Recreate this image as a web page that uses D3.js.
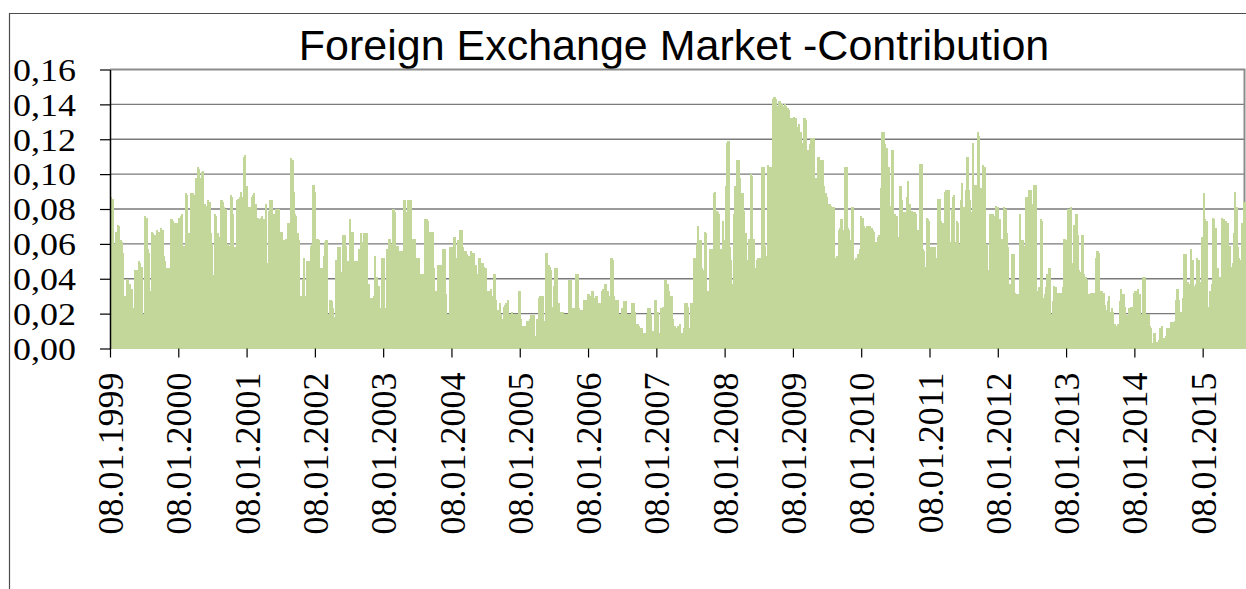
<!DOCTYPE html>
<html>
<head>
<meta charset="utf-8">
<script src="https://cdn.jsdelivr.net/npm/d3@7"></script>
<style>
  html, body { margin: 0; padding: 0; background: #ffffff; }
  svg { display: block; }
</style>
</head>
<body>
<svg id="chart" width="1246" height="589"></svg>
<script>
// Weekly contribution of the foreign exchange market, Jan 1999 – Aug 2015
const chartTitle = "Foreign Exchange Market -Contribution";

const yTickValues = [0, 0.02, 0.04, 0.06, 0.08, 0.10, 0.12, 0.14, 0.16];
const yTickLabels = ["0,00", "0,02", "0,04", "0,06", "0,08", "0,10", "0,12", "0,14", "0,16"];

const xTickLabels = [
  "08.01.1999", "08.01.2000", "08.01.2001", "08.01.2002", "08.01.2003", "08.01.2004",
  "08.01.2005", "08.01.2006", "08.01.2007", "08.01.2008", "08.01.2009", "08.01.2010",
  "08.01.2011", "08.01.2012", "08.01.2013", "08.01.2014", "08.01.2015"
];
const weeksPerLabel = 52;

// one value per week, starting 08.01.1999
const contribution = [
  0.087, 0.086, 0.047, 0.060, 0.067, 0.071, 0.070, 0.062, 0.061, 0.055,
  0.030, 0.030, 0.040, 0.039, 0.037, 0.032, 0.034, 0.023, 0.045, 0.044,
  0.045, 0.050, 0.049, 0.047, 0.020, 0.020, 0.076, 0.075, 0.057, 0.055,
  0.033, 0.067, 0.066, 0.065, 0.065, 0.068, 0.067, 0.033, 0.069, 0.068,
  0.053, 0.050, 0.033, 0.046, 0.046, 0.042, 0.074, 0.073, 0.051, 0.072,
  0.072, 0.071, 0.075, 0.076, 0.077, 0.059, 0.057, 0.089, 0.088, 0.066,
  0.031, 0.089, 0.089, 0.088, 0.075, 0.098, 0.104, 0.103, 0.098, 0.101,
  0.102, 0.083, 0.082, 0.053, 0.085, 0.084, 0.066, 0.060, 0.042, 0.077,
  0.076, 0.066, 0.064, 0.049, 0.085, 0.084, 0.081, 0.080, 0.034, 0.060,
  0.059, 0.088, 0.087, 0.077, 0.058, 0.058, 0.085, 0.086, 0.087, 0.090,
  0.087, 0.110, 0.111, 0.093, 0.081, 0.081, 0.081, 0.087, 0.088, 0.089,
  0.083, 0.068, 0.075, 0.074, 0.075, 0.076, 0.074, 0.074, 0.083, 0.049,
  0.079, 0.085, 0.085, 0.056, 0.077, 0.077, 0.080, 0.080, 0.080, 0.067,
  0.067, 0.033, 0.062, 0.063, 0.043, 0.072, 0.070, 0.109, 0.108, 0.090,
  0.077, 0.076, 0.066, 0.062, 0.023, 0.030, 0.040, 0.052, 0.030, 0.050,
  0.049, 0.050, 0.059, 0.060, 0.094, 0.090, 0.059, 0.063, 0.062, 0.046,
  0.046, 0.046, 0.053, 0.061, 0.062, 0.020, 0.020, 0.028, 0.027, 0.023,
  0.018, 0.051, 0.051, 0.058, 0.058, 0.044, 0.033, 0.065, 0.065, 0.059,
  0.050, 0.050, 0.074, 0.067, 0.067, 0.050, 0.050, 0.034, 0.050, 0.057,
  0.066, 0.043, 0.061, 0.066, 0.066, 0.066, 0.037, 0.029, 0.028, 0.029,
  0.030, 0.053, 0.041, 0.036, 0.036, 0.023, 0.052, 0.052, 0.052, 0.023,
  0.057, 0.057, 0.063, 0.060, 0.060, 0.080, 0.078, 0.059, 0.059, 0.052,
  0.056, 0.056, 0.031, 0.085, 0.085, 0.078, 0.085, 0.085, 0.085, 0.063,
  0.063, 0.063, 0.052, 0.052, 0.052, 0.043, 0.043, 0.043, 0.033, 0.074,
  0.074, 0.073, 0.046, 0.067, 0.067, 0.067, 0.046, 0.033, 0.033, 0.048,
  0.048, 0.048, 0.048, 0.057, 0.057, 0.031, 0.020, 0.008, 0.058, 0.058,
  0.058, 0.064, 0.064, 0.052, 0.062, 0.062, 0.068, 0.068, 0.058, 0.056,
  0.056, 0.054, 0.053, 0.051, 0.056, 0.055, 0.055, 0.048, 0.048, 0.043,
  0.052, 0.052, 0.049, 0.049, 0.047, 0.046, 0.020, 0.033, 0.033, 0.034,
  0.030, 0.020, 0.043, 0.028, 0.020, 0.022, 0.026, 0.020, 0.017, 0.024,
  0.025, 0.026, 0.028, 0.020, 0.020, 0.021, 0.020, 0.020, 0.020, 0.020,
  0.020, 0.033, 0.017, 0.013, 0.013, 0.013, 0.013, 0.016, 0.016, 0.017,
  0.019, 0.019, 0.019, 0.007, 0.017, 0.017, 0.029, 0.030, 0.030, 0.030,
  0.016, 0.055, 0.055, 0.048, 0.047, 0.045, 0.024, 0.036, 0.046, 0.046,
  0.026, 0.026, 0.017, 0.021, 0.021, 0.020, 0.020, 0.012, 0.020, 0.039,
  0.039, 0.023, 0.023, 0.023, 0.043, 0.043, 0.023, 0.022, 0.022, 0.022,
  0.028, 0.028, 0.028, 0.031, 0.031, 0.030, 0.033, 0.033, 0.029, 0.030,
  0.030, 0.026, 0.026, 0.020, 0.033, 0.034, 0.037, 0.037, 0.033, 0.030,
  0.030, 0.052, 0.051, 0.030, 0.028, 0.022, 0.028, 0.020, 0.020, 0.023,
  0.019, 0.027, 0.027, 0.020, 0.020, 0.020, 0.015, 0.026, 0.026, 0.021,
  0.014, 0.014, 0.013, 0.012, 0.012, 0.007, 0.009, 0.009, 0.020, 0.023,
  0.023, 0.019, 0.010, 0.010, 0.028, 0.028, 0.021, 0.009, 0.009, 0.023,
  0.024, 0.024, 0.039, 0.037, 0.037, 0.033, 0.030, 0.030, 0.017, 0.013,
  0.012, 0.010, 0.013, 0.014, 0.009, 0.009, 0.012, 0.026, 0.026, 0.024,
  0.012, 0.012, 0.026, 0.025, 0.052, 0.052, 0.060, 0.070, 0.062, 0.062,
  0.046, 0.045, 0.067, 0.066, 0.033, 0.032, 0.057, 0.057, 0.057, 0.089,
  0.090, 0.079, 0.078, 0.077, 0.057, 0.057, 0.073, 0.062, 0.093, 0.118,
  0.119, 0.058, 0.051, 0.037, 0.077, 0.093, 0.093, 0.108, 0.108, 0.098,
  0.089, 0.089, 0.079, 0.066, 0.051, 0.048, 0.063, 0.100, 0.099, 0.063,
  0.046, 0.043, 0.051, 0.052, 0.052, 0.052, 0.104, 0.104, 0.059, 0.053,
  0.105, 0.104, 0.104, 0.099, 0.143, 0.144, 0.143, 0.139, 0.139, 0.142,
  0.141, 0.140, 0.139, 0.140, 0.139, 0.138, 0.137, 0.087, 0.132, 0.132,
  0.133, 0.132, 0.127, 0.093, 0.129, 0.124, 0.118, 0.115, 0.132, 0.131,
  0.114, 0.114, 0.117, 0.120, 0.121, 0.121, 0.095, 0.098, 0.110, 0.110,
  0.106, 0.108, 0.108, 0.093, 0.089, 0.087, 0.075, 0.083, 0.082, 0.081,
  0.081, 0.035, 0.052, 0.053, 0.068, 0.069, 0.074, 0.068, 0.058, 0.104,
  0.104, 0.069, 0.068, 0.062, 0.081, 0.081, 0.051, 0.052, 0.052, 0.054,
  0.057, 0.076, 0.075, 0.070, 0.069, 0.063, 0.070, 0.070, 0.070, 0.069,
  0.068, 0.067, 0.061, 0.050, 0.064, 0.065, 0.092, 0.124, 0.124, 0.117,
  0.115, 0.115, 0.104, 0.082, 0.052, 0.114, 0.077, 0.077, 0.076, 0.064,
  0.047, 0.093, 0.085, 0.059, 0.078, 0.078, 0.087, 0.096, 0.083, 0.078,
  0.079, 0.078, 0.078, 0.077, 0.068, 0.067, 0.106, 0.106, 0.057, 0.056,
  0.047, 0.075, 0.074, 0.073, 0.058, 0.058, 0.058, 0.058, 0.045, 0.052,
  0.086, 0.086, 0.073, 0.072, 0.071, 0.090, 0.091, 0.091, 0.091, 0.061,
  0.080, 0.087, 0.088, 0.061, 0.073, 0.072, 0.060, 0.085, 0.095, 0.081,
  0.061, 0.091, 0.110, 0.091, 0.085, 0.078, 0.118, 0.094, 0.093, 0.094,
  0.124, 0.122, 0.092, 0.076, 0.105, 0.104, 0.060, 0.060, 0.045, 0.077,
  0.077, 0.077, 0.048, 0.076, 0.082, 0.081, 0.074, 0.074, 0.063, 0.063,
  0.081, 0.080, 0.066, 0.058, 0.037, 0.037, 0.054, 0.054, 0.032, 0.031,
  0.031, 0.031, 0.077, 0.062, 0.062, 0.059, 0.038, 0.087, 0.083, 0.091,
  0.091, 0.039, 0.083, 0.094, 0.094, 0.029, 0.033, 0.035, 0.074, 0.073,
  0.029, 0.031, 0.035, 0.043, 0.046, 0.046, 0.020, 0.027, 0.036, 0.035,
  0.030, 0.032, 0.032, 0.032, 0.020, 0.035, 0.063, 0.062, 0.051, 0.080,
  0.052, 0.081, 0.049, 0.071, 0.065, 0.077, 0.065, 0.045, 0.044, 0.065,
  0.065, 0.043, 0.041, 0.039, 0.028, 0.031, 0.032, 0.032, 0.032, 0.032,
  0.052, 0.056, 0.055, 0.033, 0.033, 0.024, 0.032, 0.025, 0.022, 0.027,
  0.030, 0.021, 0.023, 0.021, 0.014, 0.013, 0.013, 0.014, 0.027, 0.034,
  0.031, 0.031, 0.024, 0.019, 0.019, 0.023, 0.023, 0.024, 0.020, 0.032,
  0.033, 0.023, 0.034, 0.031, 0.012, 0.020, 0.041, 0.041, 0.012, 0.020,
  0.020, 0.013, 0.012, 0.003, 0.009, 0.009, 0.004, 0.003, 0.005, 0.012,
  0.013, 0.005, 0.006, 0.007, 0.012, 0.012, 0.012, 0.015, 0.015, 0.015,
  0.016, 0.028, 0.034, 0.028, 0.020, 0.021, 0.029, 0.054, 0.054, 0.036,
  0.038, 0.037, 0.057, 0.051, 0.051, 0.036, 0.037, 0.052, 0.051, 0.033,
  0.038, 0.064, 0.089, 0.074, 0.073, 0.022, 0.024, 0.033, 0.037, 0.075,
  0.074, 0.069, 0.037, 0.046, 0.041, 0.037, 0.075, 0.074, 0.065, 0.073,
  0.072, 0.054, 0.059, 0.047, 0.049, 0.066, 0.090, 0.081, 0.058, 0.052,
  0.051, 0.072, 0.072, 0.084, 0.084
];

const serifFont = "'Liberation Serif', 'Times New Roman', 'DejaVu Serif', serif";

const svg = d3.select("#chart");
const plot = { left: 110, right: 1246, top: 69.5, bottom: 348.5 };
const n = contribution.length;

const x = d3.scaleBand()
  .domain(d3.range(n))
  .range([plot.left, plot.right])
  .padding(0);

// continuous companion of the band scale, used for the week-boundary ticks
const xEdge = d3.scaleLinear().domain([0, n]).range([plot.left, plot.right]);

const y = d3.scaleLinear().domain([0, 0.16]).range([plot.bottom, plot.top]);

// outer chart frame
svg.append("path")
  .attr("d", `M9.5,${589} V13.5 H1246`)
  .attr("fill", "none")
  .attr("stroke", "#4d4d4d")
  .attr("stroke-width", 1.2);

// title
svg.append("text")
  .attr("x", 674)
  .attr("y", 60)
  .attr("text-anchor", "middle")
  .style("font-family", "'Liberation Sans', Arial, sans-serif")
  .style("font-size", "43px")
  .attr("fill", "#000")
  .text(chartTitle);

// horizontal gridlines
svg.append("g")
  .selectAll("line")
  .data(yTickValues.filter(v => v > 0 && v < 0.16))
  .join("line")
  .attr("x1", plot.left)
  .attr("x2", plot.right - 1.5)
  .attr("y1", d => y(d))
  .attr("y2", d => y(d))
  .attr("stroke", "#7a7a7a")
  .attr("stroke-width", 1.4);

// plot area border (top and right)
svg.append("path")
  .attr("d", `M${plot.left},${y(0.16)} H${plot.right - 1.5} V${plot.bottom}`)
  .attr("fill", "none")
  .attr("stroke", "#8c8c8c")
  .attr("stroke-width", 2);

// weekly bars
svg.append("g")
  .attr("shape-rendering", "crispEdges")
  .selectAll("rect")
  .data(contribution)
  .join("rect")
  .attr("x", (d, i) => x(i))
  .attr("width", x.bandwidth() + 1)
  .attr("y", d => y(d))
  .attr("height", d => y(0) - y(d))
  .attr("fill", "#c4d79b");

// y axis
const yAxis = svg.append("g")
  .attr("transform", `translate(${plot.left},0)`)
  .call(d3.axisLeft(y)
    .tickValues(yTickValues)
    .tickFormat((d, i) => yTickLabels[i])
    .tickSize(10)
    .tickSizeOuter(0)
    .tickPadding(33));
yAxis.attr("font-family", null).attr("font-size", null);
yAxis.select(".domain").attr("stroke", "#000").attr("stroke-width", 1.5);
yAxis.selectAll(".tick line").attr("stroke", "#000").attr("stroke-width", 1.2);
yAxis.selectAll(".tick text")
  .style("font-family", serifFont)
  .style("font-size", "31px")
  .attr("text-anchor", "start")
  .attr("x", -97)
  .attr("textLength", 63)
  .attr("lengthAdjust", "spacingAndGlyphs")
  .attr("fill", "#000")
  .attr("dy", "0.35em");

// x axis: a label every 52 weeks
const xAxis = svg.append("g")
  .attr("transform", `translate(0,${plot.bottom})`)
  .call(d3.axisBottom(xEdge)
    .tickValues(xTickLabels.map((l, k) => k * weeksPerLabel))
    .tickFormat((d, k) => xTickLabels[k])
    .tickSize(9)
    .tickSizeOuter(0));
xAxis.attr("font-family", null).attr("font-size", null);
xAxis.select(".domain").remove();
xAxis.selectAll(".tick line").attr("stroke", "#000").attr("stroke-width", 1.2);
xAxis.selectAll(".tick text")
  .style("font-family", serifFont)
  .style("font-size", "36px")
  .attr("transform", "rotate(-90)")
  .attr("text-anchor", "end")
  .attr("x", -24)
  .attr("y", 0)
  .attr("dy", "0.35em")
  .attr("fill", "#000");
</script>
</body>
</html>
